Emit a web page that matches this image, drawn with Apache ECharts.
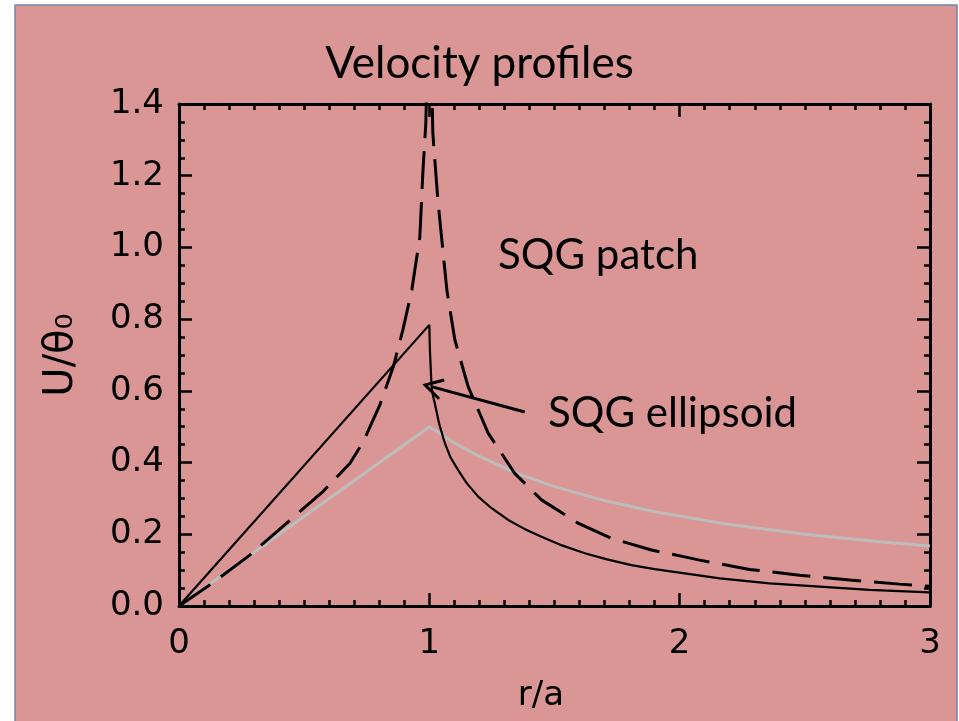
<!DOCTYPE html>
<html>
<head>
<meta charset="utf-8">
<style>
  html, body { margin: 0; padding: 0; background: #ffffff; }
  #chart { width: 959px; height: 721px; }
</style>
<script src="https://cdn.jsdelivr.net/npm/echarts@6/dist/echarts.min.js"></script>
</head>
<body>
<div id="chart"></div>
<script>
// ---- data ----
var titleText = 'Velocity profiles';
var xName = 'r/a';
var yName = 'U/θ₀';
var xTicks = [0, 1, 2, 3];
var yTicks = [0.0, 0.2, 0.4, 0.6, 0.8, 1.0, 1.2, 1.4];

// SQG ellipsoid (solid black)
var ellipsoidR = [0, 1.0, 1.002, 1.006, 1.009, 1.015, 1.022, 1.039, 1.062, 1.085, 1.115, 1.15, 1.195, 1.25, 1.315, 1.38, 1.448, 1.53, 1.621, 1.71, 1.807, 1.9, 2.02, 2.16, 2.359, 2.559, 2.758, 3.0];
var ellipsoidU = [0, 0.784, 0.72, 0.655, 0.612, 0.585, 0.565, 0.509, 0.454, 0.414, 0.379, 0.342, 0.305, 0.272, 0.240, 0.215, 0.193, 0.169, 0.147, 0.130, 0.114, 0.103, 0.091, 0.077, 0.063, 0.054, 0.045, 0.038];

// SQG patch (dashed black)
var patchR = [0, 0.124, 0.283, 0.43, 0.576, 0.683, 0.736, 0.802, 0.856, 0.895, 0.93, 0.962, 0.974, 0.986, 0.993, 1.0, 1.007, 1.014, 1.034, 1.07, 1.102, 1.155, 1.235, 1.341, 1.448, 1.594, 1.727, 1.887, 2.02, 2.08, 2.279, 2.479, 2.679, 2.878, 3.0];
var patchU = [0, 0.059, 0.142, 0.231, 0.320, 0.398, 0.458, 0.560, 0.667, 0.772, 0.881, 1.029, 1.207, 1.347, 1.55, 2.2, 1.55, 1.319, 1.132, 0.881, 0.742, 0.612, 0.482, 0.370, 0.296, 0.231, 0.189, 0.156, 0.137, 0.128, 0.102, 0.086, 0.0725, 0.061, 0.055];

// QG reference (light gray)
var qgR = [0, 1.0, 1.1, 1.2, 1.35, 1.5, 1.7, 1.9, 2.2, 2.5, 2.8, 3.0];
var qgU = [0, 0.5, 0.455, 0.417, 0.370, 0.333, 0.294, 0.263, 0.227, 0.200, 0.179, 0.167];

// annotation arrow (data coordinates): tail -> tip
var arrowTail = [1.381, 0.541];
var arrowTip = [1.012, 0.611];
var patchLabel = 'SQG patch';
var ellipsoidLabel = 'SQG ellipsoid';

function pairs(xs, ys) { return xs.map(function (x, i) { return [x, ys[i]]; }); }

var chart = echarts.init(document.getElementById('chart'), null, { renderer: 'canvas' });

var tickFont = 'DejaVu Sans';
var textFont = 'Lato';

function axisCommon(showLabel, isX) {
  return {
    axisLine: { show: true, onZero: false, lineStyle: { color: '#000', width: 3 } },
    axisTick: { show: true, inside: true, length: 13, lineStyle: { color: '#000', width: 2.5 } },
    minorTick: { show: true, splitNumber: isX ? 10 : 4, length: 6, lineStyle: { color: '#000', width: 2.5 } },
    splitLine: { show: false },
    minorSplitLine: { show: false },
    axisLabel: showLabel ? {
      show: true,
      fontFamily: tickFont, fontSize: 34, color: '#000',
      margin: isX ? 21 : 15,
      formatter: isX ? function (v) { return String(v); } : function (v) { return v.toFixed(1); }
    } : { show: false }
  };
}

var option = {
  backgroundColor: '#ffffff',
  animation: false,
  title: {
    text: titleText,
    left: 'center',
    top: 37,
    textStyle: { fontFamily: textFont, fontSize: 44, fontWeight: 'normal', color: '#000' }
  },
  grid: { left: 179, right: 29, top: 104, bottom: 115, containLabel: false },
  xAxis: [
    Object.assign({ type: 'value', position: 'bottom', min: xTicks[0], max: xTicks[xTicks.length - 1], interval: 1 }, axisCommon(true, true)),
    Object.assign({ type: 'value', position: 'top', min: xTicks[0], max: xTicks[xTicks.length - 1], interval: 1 }, axisCommon(false, true))
  ],
  yAxis: [
    Object.assign({ type: 'value', position: 'left', min: yTicks[0], max: yTicks[yTicks.length - 1], interval: 0.2 }, axisCommon(true, false)),
    Object.assign({ type: 'value', position: 'right', min: yTicks[0], max: yTicks[yTicks.length - 1], interval: 0.2 }, axisCommon(false, false))
  ],
  graphic: [
    {
      type: 'rect', z: -100, silent: true,
      shape: { x: 15, y: 5, width: 942, height: 730 },
      style: { fill: '#D99694', stroke: '#7385B0', lineWidth: 1.5 }
    },
    {
      type: 'text', z: 100, silent: true,
      x: 62, y: 355, rotation: Math.PI / 2,
      style: { text: yName, font: '40px "DejaVu Sans"', fill: '#000', align: 'center', verticalAlign: 'middle' }
    },
    {
      type: 'text', z: 100, silent: true,
      x: 541, y: 696,
      style: { text: xName, font: '34px "DejaVu Sans"', fill: '#000', align: 'center', verticalAlign: 'middle' }
    },
    {
      type: 'text', z: 100, silent: true,
      x: 498, y: 255,
      style: { text: patchLabel, font: '42px Lato', fill: '#000', align: 'left', verticalAlign: 'middle' }
    },
    {
      type: 'text', z: 100, silent: true,
      x: 548, y: 413,
      style: { text: ellipsoidLabel, font: '42px Lato', fill: '#000', align: 'left', verticalAlign: 'middle' }
    }
  ],
  series: [
    {
      name: 'QG', type: 'line', xAxisIndex: 0, yAxisIndex: 0,
      data: pairs(qgR, qgU), showSymbol: false, symbol: 'none', smooth: false, z: 2,
      lineStyle: { color: '#BDBDBD', width: 3 }
    },
    {
      name: 'SQG patch', type: 'line', xAxisIndex: 0, yAxisIndex: 0,
      data: pairs(patchR, patchU), showSymbol: false, symbol: 'none', smooth: false, z: 3, clip: true,
      lineStyle: { color: '#000', width: 3, type: [38, 13] }
    },
    {
      name: 'SQG ellipsoid', type: 'line', xAxisIndex: 0, yAxisIndex: 0,
      data: pairs(ellipsoidR, ellipsoidU), showSymbol: false, symbol: 'none', smooth: false, z: 4,
      lineStyle: { color: '#000', width: 2.2 },
      markLine: {
        silent: true, animation: false,
        label: { show: false },
        lineStyle: { color: '#000', width: 3, type: 'solid' },
        symbol: ['none', 'path://M0,0 L9,16 L7,17.5 L0,5 L-7,17.5 L-9,16 Z'],
        symbolSize: [22, 21],
        data: [[{ coord: arrowTail }, { coord: arrowTip }]]
      }
    }
  ]
};

chart.setOption(option);
</script>
</body>
</html>
